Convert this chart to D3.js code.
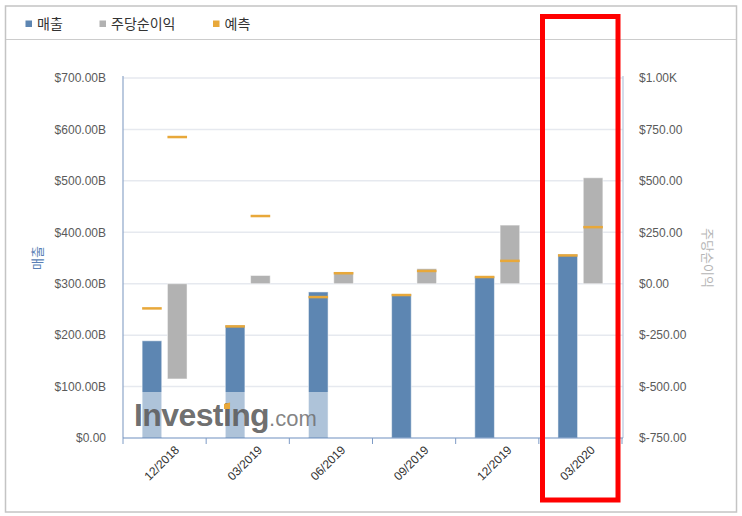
<!DOCTYPE html>
<html><head><meta charset="utf-8">
<script src="https://cdn.jsdelivr.net/npm/d3@7"></script>
<style>
html,body{margin:0;padding:0;background:#fff;}
svg{display:block;}
</style></head>
<body>
<svg id="chart" width="742" height="516"></svg>
<script>
const categories = ["12/2018","03/2019","06/2019","09/2019","12/2019","03/2020"];
const revenue = [189, 219, 284, 280, 314, 357];          // 매출 (B)
const revenueForecast = [252, 217, 274, 278, 313, 355];  // 예측 (B)
const eps = [-463, 40, 57, 73, 285, 515];                // 주당순이익
const epsForecast = [713, 329, 51, 62, 111, 275];        // 예측
const leftTicks = [0,100,200,300,400,500,600,700];
const rightTicks = [-750,-500,-250,0,250,500,750,1000];
const legendItems = ["매출","주당순이익","예측"];

const C_BLUE = "#5d86b2", C_GRAY = "#b2b2b2", C_ORANGE = "#e8a83a";
const FONT = "'Liberation Sans', Arial, sans-serif";
const KFONT = "'Noto Sans CJK KR', 'Noto Sans', sans-serif";

const svg = d3.select("#chart");
// outer frame
svg.append("rect").attr("x",5.5).attr("y",6).attr("width",731).attr("height",506)
  .attr("fill","none").attr("stroke","#c4c4c4").attr("stroke-width",1.5);
svg.append("line").attr("x1",6).attr("x2",736).attr("y1",39.5).attr("y2",39.5)
  .attr("stroke","#cccccc").attr("stroke-width",1);

// legend
const legendColors = [C_BLUE, C_GRAY, C_ORANGE];
const legendX = [25.5, 99.5, 213];
legendItems.forEach((t,i)=>{
  svg.append("rect").attr("x",legendX[i]).attr("y",20.5).attr("width",6.5).attr("height",6.5).attr("fill",legendColors[i]);
  svg.append("text").attr("x",legendX[i]+11.5).attr("y",28.5).attr("font-family",KFONT)
    .attr("font-size",14).attr("fill","#333").text(t);
});

const x0 = 123, x1 = 622, yTop = 78, yBot = 438;
const x = d3.scaleBand().domain(categories).range([x0, x1]);
const xs = d3.scaleBand().domain(["rev","eps"]).range([0, x.bandwidth()]).paddingInner(0.225).paddingOuter(0.756);
const yL = d3.scaleLinear().domain([0,700]).range([yBot, yTop]);
const yR = d3.scaleLinear().domain([-750,1000]).range([yBot, yTop]);

// gridlines
svg.append("g").selectAll("line").data(leftTicks.slice(1)).join("line")
  .attr("x1",x0).attr("x2",x1+1).attr("y1",d=>yL(d)).attr("y2",d=>yL(d))
  .attr("stroke","#e6e9ef").attr("stroke-width",1.5);

// left axis
const gL = svg.append("g").attr("transform",`translate(${x0},0)`)
  .call(d3.axisLeft(yL).tickValues(leftTicks).tickSize(0).tickPadding(17)
    .tickFormat(d=> d===0 ? "$0.00" : "$"+d.toFixed(2)+"B"));
gL.select(".domain").attr("stroke","#8ea6c9").attr("stroke-width",1.2).attr("d",`M0,${yTop-2}V${yBot}`);
gL.selectAll("text").attr("font-family",FONT).attr("font-size",12).attr("fill","#5a5a5a");

// right axis
const gR = svg.append("g").attr("transform",`translate(${x1+1},0)`)
  .call(d3.axisRight(yR).tickValues(rightTicks).tickSize(0).tickPadding(16)
    .tickFormat(d=> d===1000 ? "$1.00K" : "$"+d.toFixed(2)));
gR.select(".domain").attr("stroke","#b7c6dd").attr("stroke-width",1.2).attr("d",`M0,${yTop-2}V${yBot}`);
gR.selectAll("text").attr("font-family",FONT).attr("font-size",12).attr("fill","#5a5a5a");

// axis titles
svg.append("text").attr("transform","translate(42,258) rotate(-90)").attr("text-anchor","middle")
  .attr("font-family",KFONT).attr("font-size",13).attr("fill","#5a7fb5").text("매출");
svg.append("text").attr("transform","translate(703,258) rotate(90)").attr("text-anchor","middle")
  .attr("font-family",KFONT).attr("font-size",13).attr("fill","#b5b5b5").text("주당순이익");

// revenue bars
svg.append("g").selectAll("rect").data(categories).join("rect")
  .attr("x",(d)=>x(d)+xs("rev")).attr("width",xs.bandwidth())
  .attr("y",(d,i)=>yL(revenue[i])).attr("height",(d,i)=>yL(0)-yL(revenue[i]))
  .attr("fill",C_BLUE).attr("stroke","#ffffff").attr("stroke-opacity",0.5).attr("stroke-width",1);

// eps bars
svg.append("g").selectAll("rect").data(categories).join("rect")
  .attr("x",(d)=>x(d)+xs("eps")).attr("width",xs.bandwidth())
  .attr("y",(d,i)=>Math.min(yR(eps[i]),yR(0))).attr("height",(d,i)=>Math.abs(yR(eps[i])-yR(0)))
  .attr("fill",C_GRAY).attr("stroke","#ffffff").attr("stroke-opacity",0.5).attr("stroke-width",1);

// forecast markers
svg.append("g").selectAll("rect").data(categories).join("rect")
  .attr("x",(d)=>x(d)+xs("rev")).attr("width",xs.bandwidth())
  .attr("y",(d,i)=>yL(revenueForecast[i])-1.25).attr("height",2.5).attr("fill",C_ORANGE);
svg.append("g").selectAll("rect").data(categories).join("rect")
  .attr("x",(d)=>x(d)+xs("eps")).attr("width",xs.bandwidth())
  .attr("y",(d,i)=>yR(epsForecast[i])-1.25).attr("height",2.5).attr("fill",C_ORANGE);

// watermark
svg.append("rect").attr("x",124).attr("y",392).attr("width",206).attr("height",45.5)
  .attr("fill","#ffffff").attr("opacity",0.5);
const wmSize = 32;
const wm = svg.append("text").attr("x",134).attr("y",426).attr("font-family",FONT);
wm.append("tspan").attr("font-size",wmSize).attr("font-weight","bold").attr("fill","#5c5c5c").attr("fill-opacity",0.9)
  .attr("letter-spacing",-0.6).text("Investing");
wm.append("tspan").attr("font-size",22).attr("fill","#6e6e6e").attr("fill-opacity",0.85).text(".com");
// orange dot over the 'i' in "Investing" (char index 6)
let ix = 227;
try {
  const ext = wm.node().getExtentOfChar(6);
  ix = ext.x + ext.width/2;
} catch(e) {}
const dTop = 402.5, dBot = 409;
svg.append("path")
  .attr("d",`M${ix-3},${dBot} L${ix+3},${dTop+1.5} L${ix+3},${dTop} L${ix-3},${dTop+1.5} Z`)
  .attr("fill",C_ORANGE);
svg.append("rect").attr("x",ix-3).attr("y",dTop+1.5).attr("width",6).attr("height",dBot-dTop-1.5)
  .attr("fill",C_ORANGE);

// bottom axis
const gB = svg.append("g").attr("transform",`translate(0,${yBot})`)
  .call(d3.axisBottom(x).tickSize(0).tickFormat(""));
gB.select(".domain").attr("stroke","#6f8fbf").attr("stroke-width",1.2).attr("d",`M${x0},0H${x1+1}`);
gB.selectAll(".tick").remove();
svg.append("g").selectAll("line").data(categories.concat(["end"])).join("line")
  .attr("x1",(d,i)=> i<categories.length ? x(d) : x1).attr("x2",(d,i)=> i<categories.length ? x(d) : x1)
  .attr("y1",yBot).attr("y2",yBot+6).attr("stroke","#7f9cc6").attr("stroke-width",1);
svg.append("g").selectAll("text").data(categories).join("text")
  .attr("transform",d=>`translate(${x(d)+x.bandwidth()/2},466) rotate(-45)`)
  .attr("text-anchor","middle").attr("font-family",FONT).attr("font-size",12).attr("fill","#333").text(d=>d);

// highlight annotation
svg.append("rect").attr("x",542.5).attr("y",16.5).attr("width",75.5).attr("height",483.5)
  .attr("fill","none").attr("stroke","#ff0000").attr("stroke-width",5);
</script>
</body></html>
